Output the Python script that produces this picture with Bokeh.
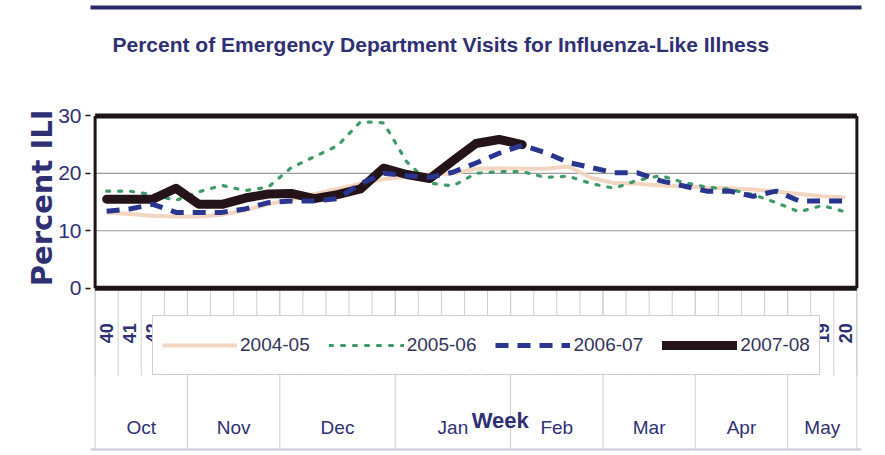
import numpy as np
from bokeh.plotting import figure
from bokeh.models import Range1d, FixedTicker, LinearAxis, Legend, LegendItem, Title
from bokeh.core.properties import value
from bokeh.embed import file_html
from bokeh.resources import INLINE

# ---------------- data ----------------
weeks = [40, 41, 42, 43, 44, 45, 46, 47, 48, 49, 50, 51, 52,
         1, 2, 3, 4, 5, 6, 7, 8, 9, 10, 11, 12, 13, 14, 15, 16, 17, 18, 19, 20]
week_labels = [str(w) for w in weeks]
months = ["Oct", "Nov", "Dec", "Jan", "Feb", "Mar", "Apr", "May"]
month_week_counts = [4, 4, 5, 5, 4, 4, 4, 3]
y_ticks = [0, 10, 20, 30]

s0405 = [13.2, 12.9, 12.6, 12.5, 12.5, 12.8, 13.6, 14.6, 15.5, 16.4, 17.3, 18.2, 19.0,
         19.4, 19.7, 20.0, 20.8, 20.9, 20.8, 20.8, 21.2, 19.2, 18.3, 18.2, 17.9, 17.8,
         17.5, 17.4, 17.2, 16.8, 16.4, 16.0, 15.8]
s0506 = [16.9, 16.9, 16.3, 15.3, 16.8, 17.9, 17.0, 17.6, 21.0, 22.9, 24.8, 29.0, 28.8,
         22.0, 18.3, 17.8, 20.0, 20.3, 20.3, 19.3, 19.5, 18.2, 17.4, 18.8, 19.6, 18.4,
         17.6, 17.2, 16.3, 14.9, 13.3, 14.4, 13.3]
s0607 = [13.4, 13.8, 14.6, 13.2, 13.2, 13.2, 13.8, 14.9, 15.2, 15.2, 15.6, 18.2, 20.0,
         19.6, 19.3, 20.2, 21.8, 23.5, 24.9, 23.6, 21.9, 21.0, 20.1, 20.1, 18.7, 17.8,
         16.9, 16.9, 16.0, 16.9, 15.2, 15.2, 15.2]
s0708 = [15.5, 15.5, 15.5, 17.4, 14.6, 14.6, 15.7, 16.4, 16.5, 15.6, 16.3, 17.3, 20.9,
         19.8, 19.1, 22.2, 25.2, 25.9, 25.0] + [None] * 14

series_names = ["2004-05", "2005-06", "2006-07", "2007-08"]
title_text = "Percent of Emergency Department Visits for Influenza-Like Illness"
y_title = "Percent ILI"
x_title = "Week"

# ---------------- styles ----------------
SANS = "Liberation Sans, Arial, sans-serif"
WIDE = "DejaVu Sans, Verdana, sans-serif"
NAVY = "#2f2f73"
BOX = "#1c1417"
C0405 = "#f2d6c2"
C0506 = "#3e9a68"
C0607 = "#2a3590"
C0708 = "#241419"

n = len(weeks)
centers = [i + 0.5 for i in range(n)]
bounds = list(range(n + 1))
mb = [0] + [int(v) for v in np.cumsum(month_week_counts)]
month_centers = [(mb[i] + mb[i + 1]) / 2 for i in range(len(months))]
YMIN = -28.1

p = figure(width=877, height=452,
           x_range=Range1d(-0.2, 33.2), y_range=Range1d(YMIN, 30.6),
           x_axis_type=None, y_axis_type=None,
           toolbar_location=None, output_backend="svg",
           min_border_left=90, min_border_right=16, min_border_top=112, min_border_bottom=3)
p.outline_line_color = None
p.background_fill_color = "white"
p.border_fill_color = "white"

yaxis = LinearAxis(ticker=FixedTicker(ticks=y_ticks))
yaxis.axis_line_color = None
yaxis.major_tick_out = 5
yaxis.major_tick_in = 0
yaxis.major_tick_line_color = BOX
yaxis.major_tick_line_width = 1.5
yaxis.minor_tick_line_color = None
yaxis.major_label_standoff = 4
yaxis.major_label_text_font = SANS
yaxis.major_label_text_font_size = "21px"
yaxis.major_label_text_color = NAVY
p.add_layout(yaxis, "left")

# y title on the left (outside the axis)
ytitle = Title(text=y_title, align="right", offset=-3,
               text_font=WIDE, text_font_style="bold", text_font_size="29px",
               text_color=NAVY)
try:
    ytitle.standoff = -7
except Exception:
    ytitle.standoff = 0
p.add_layout(ytitle, "left")

# spacer + main title above, then the chart's top border line
p.add_layout(Title(text=" ", text_font_size="1px", standoff=54), "above")
p.add_layout(Title(text=title_text, align="left", offset=22, standoff=0,
                   text_font=SANS, text_font_style="bold", text_font_size="21px",
                   text_color=NAVY), "above")
p.add_layout(Title(text=" ", text_font_size="1px", standoff=20), "above")
top_rule = LinearAxis(ticker=FixedTicker(ticks=[]))
top_rule.axis_line_color = "#2a2a66"
top_rule.axis_line_width = 4
top_rule.major_tick_line_color = None
top_rule.minor_tick_line_color = None
top_rule.major_label_text_font_size = "0px"
p.add_layout(top_rule, "above")

# light bottom rule
bottom_rule = LinearAxis(ticker=FixedTicker(ticks=[]))
bottom_rule.axis_line_color = "#c9c9dd"
bottom_rule.axis_line_width = 2
bottom_rule.major_tick_line_color = None
bottom_rule.minor_tick_line_color = None
bottom_rule.major_label_text_font_size = "0px"
p.add_layout(bottom_rule, "below")

# category separators below the plot box
p.segment(x0=bounds, y0=[0] * len(bounds), x1=bounds, y1=[-15.2] * len(bounds),
          line_color="#cfcfcf", line_width=1)
p.segment(x0=mb, y0=[0] * len(mb), x1=mb, y1=[YMIN] * len(mb),
          line_color="#cfcfcf", line_width=1)

# horizontal gridlines
gy = y_ticks[1:-1]
p.segment(x0=[0] * len(gy), y0=gy, x1=[n] * len(gy), y1=gy, line_color="#9c9c9c", line_width=1.2)

# series
x = centers
r0 = p.line(x, np.array(s0405, dtype=float), line_color=C0405, line_width=4, line_join="round")
r1 = p.line(x, np.array(s0506, dtype=float), line_color=C0506, line_width=3.2,
            line_dash="3 9", line_cap="round")
r3 = p.line(x, np.array(s0708, dtype=float), line_color=C0708, line_width=9,
            line_join="round", line_cap="round")
r2 = p.line(x, np.array(s0607, dtype=float), line_color=C0607, line_width=5, line_dash="13 9")

# plot box
p.segment(x0=[0, 0], y0=[30, 0], x1=[n, n], y1=[30, 0], line_color=BOX, line_width=5)
p.segment(x0=[0, n], y0=[0, 0], x1=[0, n], y1=[30, 30], line_color=BOX, line_width=3)

# week labels (rotated)
p.text(x=centers, y=[-7.85] * n, text=week_labels, angle=np.pi / 2,
       text_align="center", text_baseline="middle",
       text_font=value(SANS), text_font_style="bold", text_font_size="18px", text_color=NAVY)

# month labels
p.text(x=month_centers, y=[-24.3] * len(months), text=months,
       text_align="center", text_baseline="middle",
       text_font=value(SANS), text_font_size="19px", text_color=NAVY)

p.text(x=[17.55], y=[-23.1], text=[x_title], text_align="center", text_baseline="middle",
       text_font=value(SANS), text_font_style="bold", text_font_size="22px", text_color=NAVY)

legend = Legend(items=[LegendItem(label=series_names[0], renderers=[r0]),
                       LegendItem(label=series_names[1], renderers=[r1]),
                       LegendItem(label=series_names[2], renderers=[r2]),
                       LegendItem(label=series_names[3], renderers=[r3])],
                location=(62, 74), orientation="horizontal")
legend.margin = 0
legend.padding = 9
legend.spacing = 19
legend.glyph_width = 75
legend.glyph_height = 20
legend.label_height = 40
legend.label_standoff = 3
legend.label_text_font = SANS
legend.label_text_font_size = "19px"
legend.label_text_color = "#33335a"
legend.border_line_color = "#a0a0a0"
legend.border_line_width = 1
legend.background_fill_color = "white"
legend.background_fill_alpha = 1
p.add_layout(legend)

open("out.html", "w").write(file_html(p, INLINE))
